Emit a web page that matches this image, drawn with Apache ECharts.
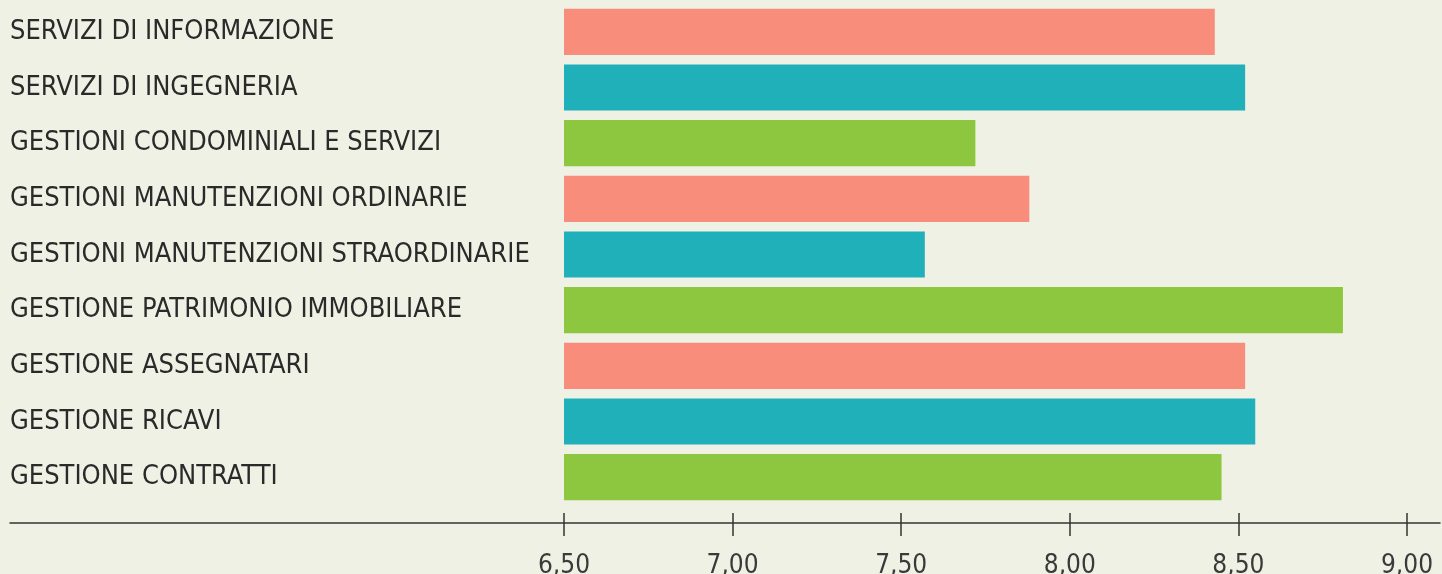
<!DOCTYPE html>
<html><head><meta charset="utf-8">
<script src="https://cdn.jsdelivr.net/npm/echarts@6/dist/echarts.min.js"></script>
<style>html,body{margin:0;padding:0;background:#F0F1E5;}#c{width:1442px;height:574px;}</style>
</head><body><div id="c"></div>
<script>
const categories = [
  'SERVIZI DI INFORMAZIONE',
  'SERVIZI DI INGEGNERIA',
  'GESTIONI CONDOMINIALI E SERVIZI',
  'GESTIONI MANUTENZIONI ORDINARIE',
  'GESTIONI MANUTENZIONI STRAORDINARIE',
  'GESTIONE PATRIMONIO IMMOBILIARE',
  'GESTIONE ASSEGNATARI',
  'GESTIONE RICAVI',
  'GESTIONE CONTRATTI'
];
const values = [8.43, 8.52, 7.72, 7.88, 7.57, 8.81, 8.52, 8.55, 8.45];
const palette = ['#F98D7B', '#20B0B9', '#8DC63F'];
const axisMin = 6.5, axisMax = 9.0, axisStep = 0.5;

const font = '"Liberation Sans Narrow", "DejaVu Sans Condensed", "Open Sans", sans-serif';
const chart = echarts.init(document.getElementById('c'));
const fmt = v => v.toFixed(2).replace('.', ',');
chart.setOption({
  backgroundColor: '#F0F1E5',
  animation: false,
  grid: [
    {left: 564, right: 35, top: 4, bottom: 69, outerBoundsMode: 'none', containLabel: false},
    {left: 10, right: 2, top: 4, bottom: 69, outerBoundsMode: 'none', containLabel: false}
  ],
  xAxis: [
    {type: 'value', gridIndex: 0, position: 'bottom', min: axisMin, max: axisMax, interval: axisStep, offset: 18,
     splitLine: {show: false},
     axisLine: {show: false},
     axisTick: {show: true, length: 13, lineStyle: {color: '#333', width: 1.5}},
     axisLabel: {formatter: fmt, fontSize: 26, color: '#3a3a3a', fontFamily: font, margin: 30}},
    {type: 'value', gridIndex: 0, position: 'bottom', min: axisMin, max: axisMax, interval: axisStep, offset: 18,
     splitLine: {show: false},
     axisLine: {show: false},
     axisTick: {show: true, inside: true, length: 10, lineStyle: {color: '#333', width: 1.5}},
     axisLabel: {show: false}},
    {type: 'value', gridIndex: 1, position: 'bottom', min: 0, max: 1, offset: 18,
     splitLine: {show: false},
     axisLine: {show: true, lineStyle: {color: '#333', width: 1.5}},
     axisTick: {show: false}, axisLabel: {show: false}}
  ],
  yAxis: [
    {type: 'category', gridIndex: 0, data: categories, inverse: true,
     axisLine: {show: false}, axisTick: {show: false},
     axisLabel: {align: 'left', margin: 554, fontSize: 27, color: '#2a2a2a', fontFamily: font}},
    {type: 'category', gridIndex: 1, show: false, data: ['a']}
  ],
  series: [{
    type: 'bar', xAxisIndex: 0, yAxisIndex: 0,
    barCategoryGap: '17%',
    data: values.map((v, i) => ({value: v, itemStyle: {color: palette[i % 3]}}))
  }]
});
</script></body></html>
